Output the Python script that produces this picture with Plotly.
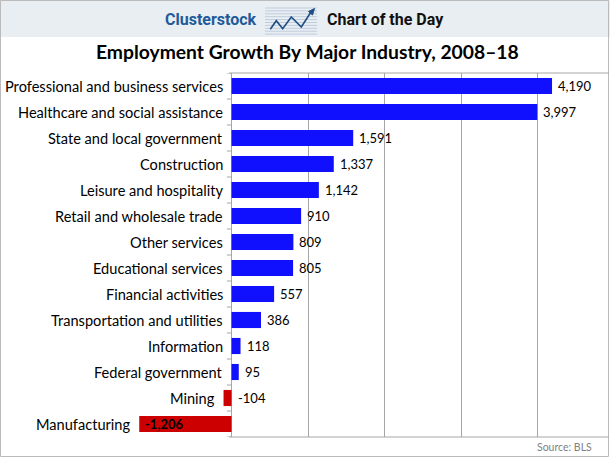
import plotly.graph_objects as go

categories = [
    "Professional and business services",
    "Healthcare and social assistance",
    "State and local government",
    "Construction",
    "Leisure and hospitality",
    "Retail and wholesale trade",
    "Other services",
    "Educational services",
    "Financial activities",
    "Transportation and utilities",
    "Information",
    "Federal government",
    "Mining",
    "Manufacturing",
]
values = [4190, 3997, 1591, 1337, 1142, 910, 809, 805, 557, 386, 118, 95, -104, -1206]
gridlines = [0, 1000, 2000, 3000, 4000]

W, H = 610, 458
ML, MR, MT, MB = 0, 1, 73, 21
PW = W - ML - MR
PH = H - MT - MB
ZERO_PX = 231.5
PX_PER_1000 = 76.5
x_min = -(ZERO_PX - ML) / PX_PER_1000 * 1000
x_max = (W - MR - ZERO_PX) / PX_PER_1000 * 1000


def px(xp):
    return (xp - ML) / PW


def py(yp):
    return (H - MB - yp) / PH


FONT = "Lato"
BLUE = "#1010FF"
RED = "#CC0000"
GRID = "#A6A6A6"

colors = [BLUE if v >= 0 else RED for v in values]

fig = go.Figure()
fig.add_trace(go.Bar(
    x=values, y=categories, orientation="h",
    marker=dict(color=colors, line=dict(width=0)),
    hoverinfo="x+y",
))

annotations = []
for c, v in zip(categories, values):
    annotations.append(dict(
        x=min(0, v), y=c, xref="x", yref="y", text=c, showarrow=False,
        xanchor="right", xshift=-7, font=dict(family=FONT, size=14.6, color="#000000"),
    ))
    lbl = f"{v:,}"
    if v >= 0:
        ax, txt = v, lbl
    elif v > -500:
        ax, txt = 0, lbl
    else:
        ax, txt = v, f"<b>{lbl}</b>"
    annotations.append(dict(
        x=ax, y=c, xref="x", yref="y", text=txt, showarrow=False,
        xanchor="left", xshift=4, font=dict(family=FONT, size=13, color="#000000"),
    ))

annotations += [
    dict(x=px(211), y=py(19), xref="paper", yref="paper", text="<b>Clusterstock</b>",
         showarrow=False, xanchor="center", yanchor="middle",
         font=dict(family="Roboto", size=16, color="#1F5B98")),
    dict(x=px(385), y=py(19), xref="paper", yref="paper", text="<b>Chart of the Day</b>",
         showarrow=False, xanchor="center", yanchor="middle",
         font=dict(family="Roboto", size=16, color="#111111")),
    dict(x=px(307), y=py(52), xref="paper", yref="paper",
         text="<b>Employment Growth By Major Industry, 2008–18</b>",
         showarrow=False, xanchor="center", yanchor="middle",
         font=dict(family=FONT, size=19.3, color="#000000")),
    dict(x=px(594), y=py(447), xref="paper", yref="paper", text="Source: BLS",
         showarrow=False, xanchor="right", yanchor="middle",
         font=dict(family=FONT, size=10.5, color="#7F7F7F")),
]

shapes = [
    dict(type="rect", xref="paper", yref="paper", x0=px(0), x1=px(W), y0=py(0), y1=py(37),
         fillcolor="#E9EEF3", line=dict(width=0), layer="below"),
    dict(type="rect", xref="paper", yref="paper", x0=px(0.5), x1=px(608.5), y0=py(0.5), y1=py(456.5),
         fillcolor="rgba(0,0,0,0)", line=dict(color="#BBBBBB", width=1)),
    dict(type="line", xref="x", yref="paper", x0=-30, x1=x_max, y0=1, y1=1,
         line=dict(color=GRID, width=1)),
    dict(type="line", xref="x", yref="paper", x0=-30, x1=x_max, y0=0, y1=0,
         line=dict(color=GRID, width=1)),
]
for i in range(len(categories) + 1):
    shapes.append(dict(type="line", xref="x", yref="y", x0=-60, x1=0,
                       y0=i - 0.5, y1=i - 0.5, line=dict(color=GRID, width=1)))

for k in range(10):
    yy = 8 + k * 2.9
    shapes.append(dict(type="line", xref="paper", yref="paper", x0=px(265), x1=px(317),
                       y0=py(yy), y1=py(yy), line=dict(color="#BFCCDD", width=1)))
zig = [(270.3, 29.3), (276.3, 20.7), (282.7, 28.7), (291.3, 17), (301.3, 27), (311, 12)]
path = "M " + " L ".join(f"{px(a)},{py(b)}" for a, b in zig)
shapes.append(dict(type="path", xref="paper", yref="paper", path=path,
                   line=dict(color="#1F4E85", width=1.6)))
head = [(314.5, 8.5), (308.5, 11.5), (312.5, 15)]
shapes.append(dict(type="path", xref="paper", yref="paper",
                   path="M " + " L ".join(f"{px(a)},{py(b)}" for a, b in head) + " Z",
                   fillcolor="#1F4E85", line=dict(color="#1F4E85", width=1)))

fig.update_layout(
    width=W, height=H,
    margin=dict(l=ML, r=MR, t=MT, b=MB, pad=0),
    paper_bgcolor="white", plot_bgcolor="white",
    showlegend=False,
    bargap=0.38,
    annotations=annotations,
    shapes=shapes,
    xaxis=dict(range=[x_min, x_max], tickvals=gridlines, showticklabels=False,
               showgrid=True, gridcolor=GRID, gridwidth=1,
               zeroline=True, zerolinecolor=GRID, zerolinewidth=1,
               showline=False, fixedrange=True),
    yaxis=dict(categoryorder="array", categoryarray=categories[::-1],
               range=[-0.5, len(categories) - 0.5],
               showticklabels=False, showgrid=False, zeroline=False, showline=False,
               fixedrange=True),
)

fig.write_html("out.html", config={"displayModeBar": False},
               post_script="document.body.style.margin='0';document.body.style.overflow='hidden';")
